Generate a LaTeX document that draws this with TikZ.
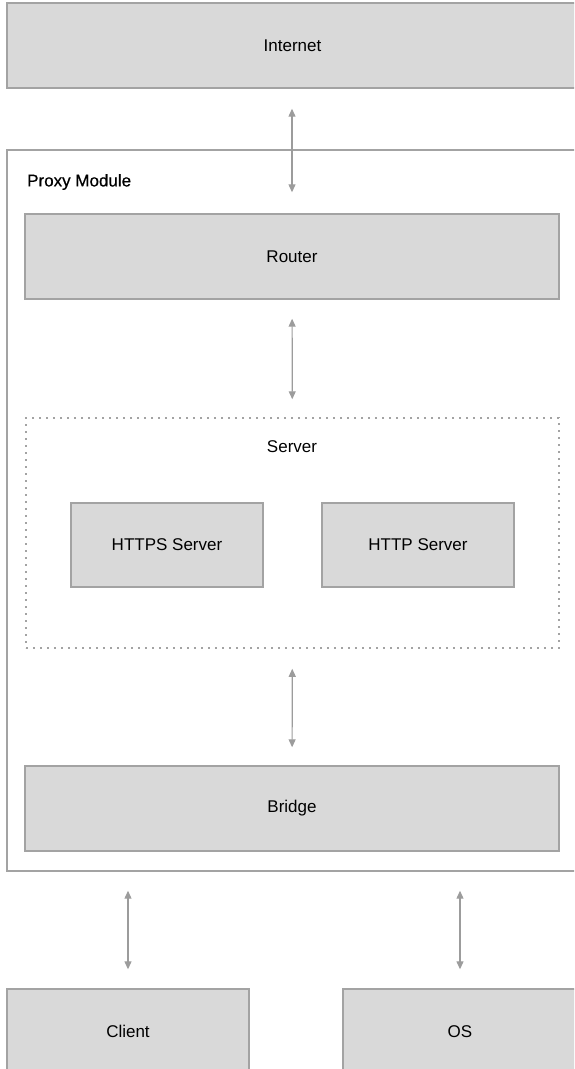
\documentclass[tikz,border=0pt]{standalone}
\usepackage{fontspec}
\setmainfont{Liberation Sans}
\newfontfamily\labelfont[FakeBold=0.5]{Liberation Sans}
\usetikzlibrary{arrows.meta}
\definecolor{boxfill}{HTML}{D9D9D9}
\definecolor{boxline}{HTML}{A3A3A3}
\definecolor{linkline}{HTML}{9C9C9C}

\begin{document}
\begin{tikzpicture}[x=1pt, y=-1pt,
    font=\fontsize{17}{20}\selectfont,
    block/.style={draw=boxline, fill=boxfill, line width=1.4pt, inner sep=0pt},
    group/.style={draw=boxline, line width=1.4pt, inner sep=0pt},
    link/.style={draw=linkline, line width=1.2pt, {Triangle[width=7pt,length=8pt]}-{Triangle[width=7pt,length=8pt]}}]
  \useasboundingbox (0,0) rectangle (574,1069);
  \clip (0,0) rectangle (574,1069);

  % outer boxes run past the right edge
  \node[block, minimum width=571pt, minimum height=85pt] (internet) at (292.5,45.5) {Internet};
  \node[group, minimum width=571pt, minimum height=721pt] (proxy) at (292.5,510.5) {};
  \node[font=\fontsize{17}{20}\labelfont, anchor=west, inner sep=0pt] (proxylabel) at (27,182) {Proxy Module};

  \node[block, minimum width=534pt, minimum height=85pt] (router) at (292,256.5) {Router};
  \node[draw=boxline, line width=1.5pt, dash pattern=on 2pt off 5pt, inner sep=0pt,
        minimum width=533pt, minimum height=230pt] (server) at (292.5,533) {};
  \node (serverlabel) at (292,447) {Server};
  \node[block, minimum width=192pt, minimum height=84pt] (https) at (167,545) {HTTPS Server};
  \node[block, minimum width=192pt, minimum height=84pt] (http) at (418,545) {HTTP Server};
  \node[block, minimum width=534pt, minimum height=85pt] (bridge) at (292,808.5) {Bridge};

  \node[block, minimum width=242pt, minimum height=85pt] (client) at (128,1031.5) {Client};
  \node[block, minimum width=234pt, minimum height=85pt] (os) at (460,1031.5) {OS};

  % connectors
  \draw[link, shorten <=20pt, shorten >=21pt] (internet.south -| router.north) -- (router.north);
  \draw[link, shorten <=19pt, shorten >=18pt] (router) -- (server);
  \draw[link, shorten <=20pt, shorten >=18pt] (server) -- (bridge);
  \draw[link, shorten <=19pt, shorten >=19pt] (client.north |- proxy.south) -- (client.north);
  \draw[link, shorten <=19pt, shorten >=19pt] (os.north |- proxy.south) -- (os.north);
\end{tikzpicture}
\end{document}
